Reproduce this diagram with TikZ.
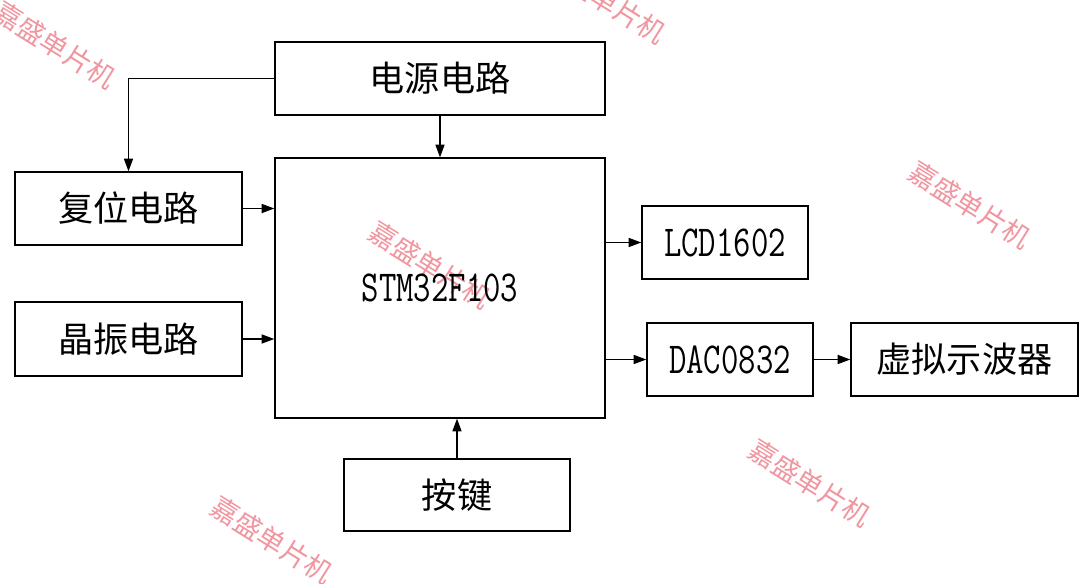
\documentclass[tikz,border=0pt]{standalone}
\usepackage{fontspec}
\usepackage{graphicx}
\newfontfamily\cjk{Noto Sans CJK SC}
\usetikzlibrary{arrows.meta}
\definecolor{wmpink}{RGB}{240,150,160}
\newcommand{\lat}[1]{\scalebox{0.8}[1.05]{\ttfamily\fontsize{30}{30}\selectfont #1}}
\tikzset{
  box/.style={draw, line width=1pt, inner sep=0pt, font=\cjk\fontsize{25}{25}\selectfont},
  arr/.style={line width=0.75pt, -{Triangle[length=9pt,width=6.5pt]}},
  wm/.style={text=wmpink, rotate=-32, font=\cjk\fontsize{19.5}{19.5}\selectfont, inner sep=0pt}
}
\begin{document}
\begin{tikzpicture}[x=0.025cm, y=-0.025cm]
\useasboundingbox (0,0) rectangle (1080,584);
% watermarks
\node[wm] (wm1) at (55,45) {嘉盛单片机};
\node[wm] (wm2) at (605,0) {嘉盛单片机};
\node[wm] (wm3) at (970,205) {嘉盛单片机};
\node[wm] (wm4) at (430,265) {嘉盛单片机};
\node[wm] (wm5) at (810,483) {嘉盛单片机};
\node[wm] (wm6) at (272,540) {嘉盛单片机};
% boxes
\node[box, minimum width=8.25cm, minimum height=1.825cm] (pwr) at (440,78.5) {电源电路};
\node[box, minimum width=8.25cm, minimum height=6.5cm] (mcu) at (440,288) {\lat{STM32F103}};
\node[box, minimum width=5.675cm, minimum height=1.825cm] (rst) at (128.5,208.5) {复位电路};
\node[box, minimum width=5.675cm, minimum height=1.85cm] (osc) at (128.5,339) {晶振电路};
\node[box, minimum width=4.15cm, minimum height=1.825cm] (lcd) at (725,242.5) {\lat{LCD1602}};
\node[box, minimum width=4.15cm, minimum height=1.825cm] (dac) at (730,359.5) {\lat{DAC0832}};
\node[box, minimum width=5.675cm, minimum height=1.825cm] (vir) at (964.5,359.5) {虚拟示波器};
\node[box, minimum width=5.65cm, minimum height=1.8cm] (key) at (457,495) {按键};
% connectors
\draw[arr] (pwr.west) -| (rst.north);
\draw[arr] (pwr.south) -- (mcu.north);
\draw[arr] (rst.east) -- (mcu.west |- rst.east);
\draw[arr] (osc.east) -- (mcu.west |- osc.east);
\draw[arr] (mcu.east |- lcd.west) -- (lcd.west);
\draw[arr] (mcu.east |- dac.west) -- (dac.west);
\draw[arr] (dac.east) -- (vir.west);
\draw[arr] (key.north) -- (key.north |- mcu.south);
\end{tikzpicture}
\end{document}
